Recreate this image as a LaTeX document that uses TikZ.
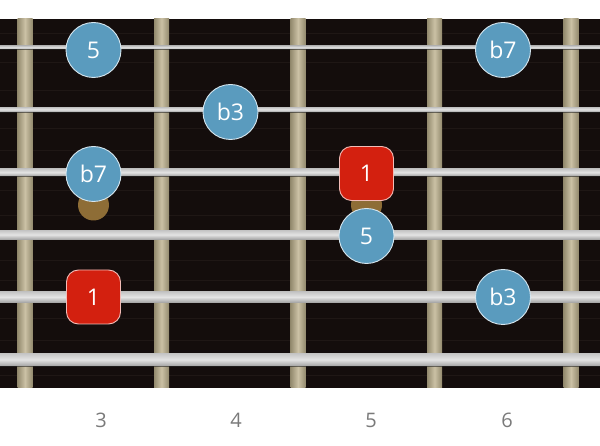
\documentclass[tikz,border=0pt]{standalone}
\usepackage{fontspec}
\setmainfont{Open Sans}
\definecolor{board}{HTML}{140D0C}
\definecolor{grain}{HTML}{1F1715}
\definecolor{fretlight}{HTML}{CBC1A5}
\definecolor{fretdark}{HTML}{938A6E}
\definecolor{strlight}{HTML}{E4E4E4}
\definecolor{strtop}{HTML}{C4C4C4}
\definecolor{strdark}{HTML}{A6A6A6}
\definecolor{noteblue}{HTML}{5A9BBE}
\definecolor{notered}{HTML}{D3200F}
\definecolor{inlay}{HTML}{8E6D36}
\definecolor{labelgray}{HTML}{7A7A7A}
\tikzset{
  fretbar/.style={left color=fretdark, right color=fretdark, middle color=fretlight},
  stringbar/.style={top color=strtop, bottom color=strdark, middle color=strlight},
  inlaydot/.style={circle, fill=inlay, minimum size=31pt, inner sep=0pt},
  bluenote/.style={circle, fill=noteblue, draw=white!75!noteblue, line width=0.9pt,
    minimum size=55pt, inner sep=0pt, text=white, font=\fontsize{23}{23}\selectfont},
  rednote/.style={rectangle, rounded corners=12pt, fill=notered, draw=white!70!notered,
    line width=0.9pt, minimum size=54pt, inner sep=0pt, text=white, font=\fontsize{23}{23}\selectfont},
  fretnum/.style={text=labelgray, font=\fontsize{20}{20}\selectfont},
}
\begin{document}
\begin{tikzpicture}[x=1pt,y=-1pt]
\useasboundingbox (0,0) rectangle (600,446);
\fill[white] (0,0) rectangle (600,446);
% board
\fill[board] (0,19) rectangle (600,388);
\foreach \g in {33,62,90,128,150,190,215,260,280,318,340,375}
  \draw[grain, line width=0.8pt] (0,\g) -- (600,\g);
% frets
\foreach \fx in {25,161.5,298,434.5,571}
  \shade[fretbar] (\fx-7.5,19) rectangle (\fx+7.5,388);
% inlay dots
\node[inlaydot] (dot3) at (93.5,205) {};
\node[inlaydot] (dot5) at (366.5,205) {};
% strings
\foreach \sy/\st in {47.5/3,109.5/4.5,172.3/7,234.7/9,297/10.5,359.5/12.5}{
  \fill[black!85, opacity=0.6] (0,\sy+\st/2) rectangle (600,\sy+\st/2+1.2);
  \shade[stringbar] (0,\sy-\st/2) rectangle (600,\sy+\st/2);
}
% notes
\node[bluenote] (n5a) at (93.5,50) {5};
\node[bluenote] (nb7a) at (503,50) {b7};
\node[bluenote] (nb3a) at (230.5,112) {b3};
\node[bluenote] (nb7b) at (93.5,174) {b7};
\node[rednote] (n1a) at (366.5,173.5) {1};
\node[bluenote] (n5b) at (366.5,236) {5};
\node[rednote] (n1b) at (93.5,297) {1};
\node[bluenote] (nb3b) at (503,297) {b3};
% fret numbers
\node[fretnum] (f3) at (101,420) {3};
\node[fretnum] (f4) at (236,420) {4};
\node[fretnum] (f5) at (371,420) {5};
\node[fretnum] (f6) at (507,420) {6};
\end{tikzpicture}
\end{document}
